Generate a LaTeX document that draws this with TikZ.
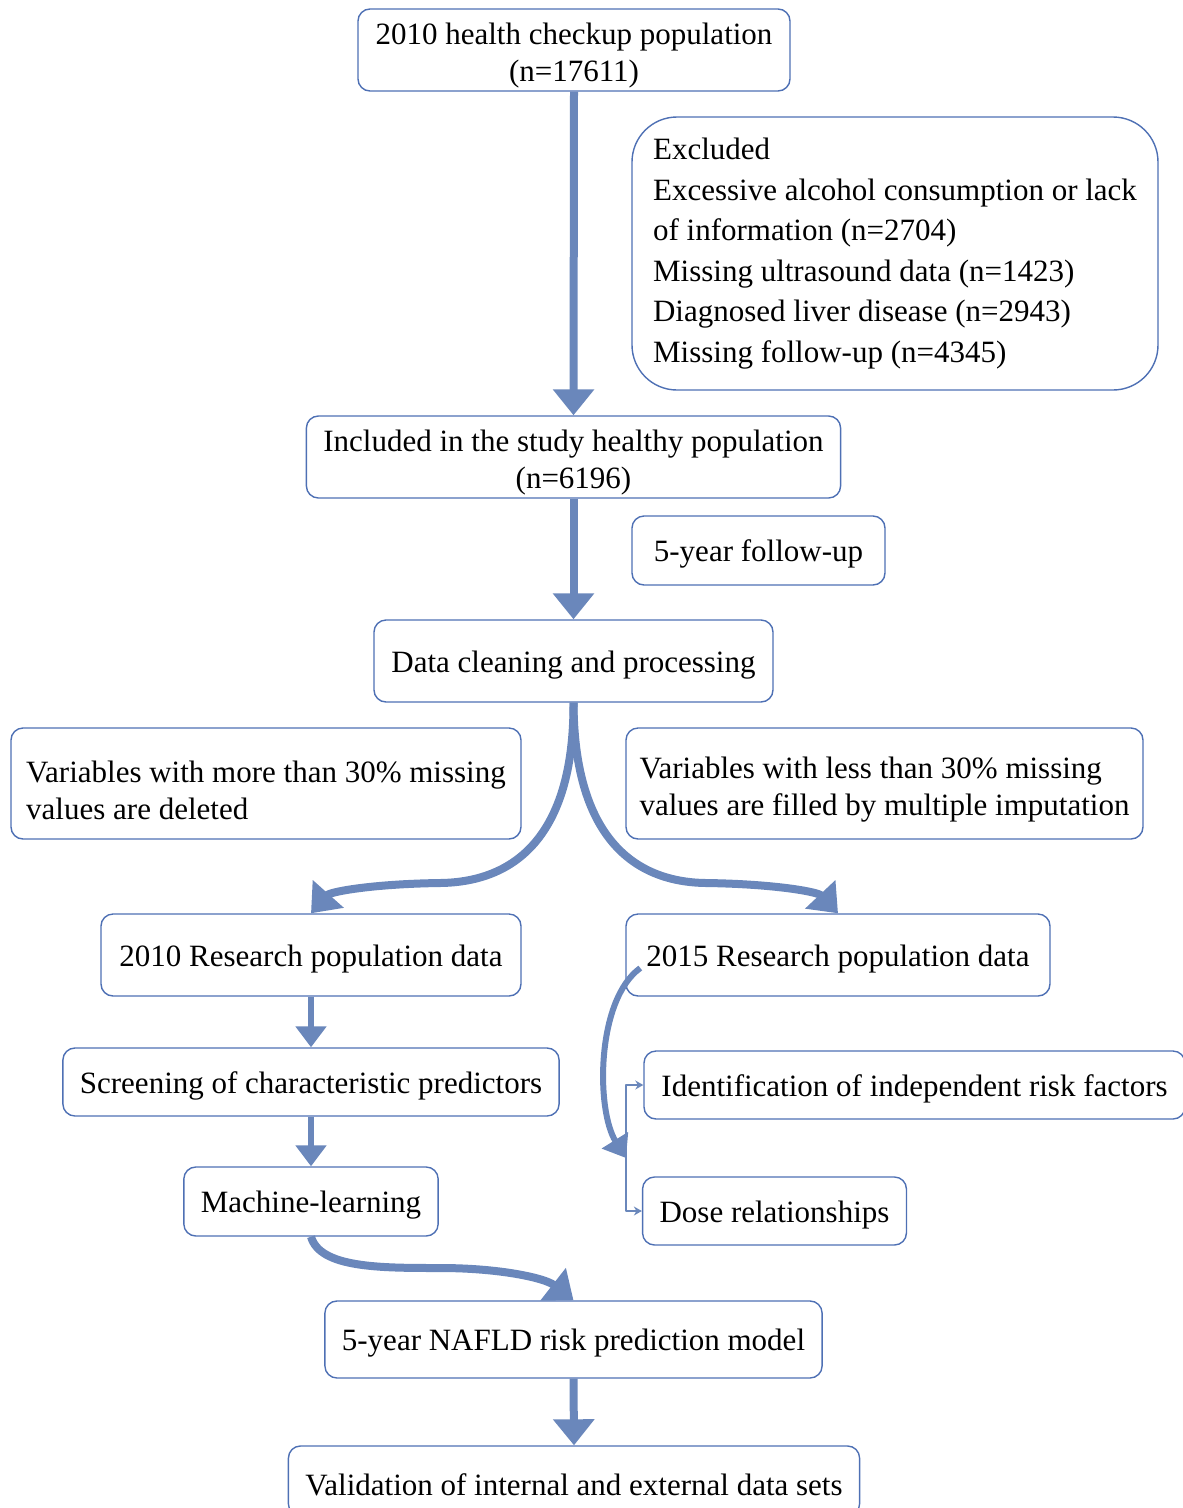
\documentclass[tikz,border=0pt]{standalone}
\usepackage{fontspec}
\setmainfont{Liberation Serif}
\usetikzlibrary{arrows.meta}
\definecolor{boxblue}{RGB}{78,112,180}
\definecolor{flowblue}{RGB}{106,135,187}
\newcommand{\topstrut}[1]{\rule{0pt}{#1}}

\begin{document}
\begin{tikzpicture}[x=1pt, y=-1pt, line join=round,
	font=\fontsize{31}{37}\selectfont,
	box/.style={draw=boxblue, line width=1.4pt, rounded corners=12pt, inner xsep=17pt, inner ysep=0pt, align=center,
		execute at begin node={\topstrut{29pt}}},
	flow/.style={draw=flowblue, line width=8pt, -{Triangle[width=40pt,length=26pt]}},
	flowsmall/.style={draw=flowblue, line width=6pt, -{Triangle[width=30pt,length=21pt]}},
	branch/.style={draw=flowblue, line width=2pt, -{Stealth[width=9pt,length=8pt]}}]
	\useasboundingbox (0,0) rectangle (1183,1508);
	
	% Main column
	\node[box, minimum width=432pt, minimum height=82pt] (pop) at (574,50) {\topstrut{33pt}2010 health checkup population\\(n=17611)};
	\node[box, rounded corners=45pt, align=left, minimum width=526pt, minimum height=273pt, font=\fontsize{31}{40.6}\selectfont,
		execute at begin node={}] (excl) at (895,253.5)
		{Excluded\\Excessive alcohol consumption or lack\\of information (n=2704)\\Missing ultrasound data (n=1423)\\Diagnosed liver disease (n=2943)\\Missing follow-up (n=4345)};
	\node[box, minimum width=533pt, minimum height=82pt] (incl) at (573.5,457) {\topstrut{33pt}Included in the study healthy population\\(n=6196)};
	\node[box, minimum width=253pt, minimum height=69pt] (fup) at (758.5,550.5) {5-year follow-up};
	\node[box, minimum width=399pt, minimum height=82pt] (clean) at (573.5,661) {Data cleaning and processing};
	
	% Missing values
	\node[box, align=left, inner xsep=14pt, minimum width=510pt, minimum height=111pt] (more) at (266,783.5)
		{\topstrut{35pt}Variables with more than 30\% missing\\values are deleted};
	\node[box, align=left, inner xsep=13pt, minimum width=517pt, minimum height=111pt] (less) at (884.5,783.5)
		{\topstrut{34pt}Variables with less than 30\% missing\\values are filled by multiple imputation};
	
	% Two data sets
	\node[box, minimum width=420pt, minimum height=82pt] (rd10) at (311,955) {2010 Research population data};
	\node[box, minimum width=424pt, minimum height=82pt] (rd15) at (838,955) {2015 Research population data};
	\node[box, minimum width=494pt, minimum height=68pt] (screen) at (311,1082) {Screening of characteristic predictors};
	\node[box, minimum width=541pt, minimum height=68pt] (ident) at (914.5,1085) {Identification of independent risk factors};
	\node[box, minimum width=252pt, minimum height=69pt] (ml) at (311,1201.5) {Machine-learning};
	\node[box, minimum width=261pt, minimum height=68pt] (dose) at (774.5,1211) {Dose relationships};
	\node[box, minimum width=495pt, minimum height=77pt] (nafld) at (573.5,1339.5) {5-year NAFLD risk prediction model};
	\node[box, minimum width=566pt, minimum height=70pt] (valid) at (574,1481) {Validation of internal and external data sets};
	
	% Arrows
	\draw[flow] (pop.south) -- (incl.north);
	\draw[flow] (incl.south) -- (clean.north);
	\draw[flow] (clean.south) .. controls (574,830) and (520,882) .. (440,883)
		.. controls (370,884) and (330,892) .. (rd10.north);
	\draw[flow] (clean.south) .. controls (574,830) and (628,882) .. (706,883)
		.. controls (776,884) and (818,892) .. (rd15.north);
	\draw[flowsmall] (rd10.south) -- (screen.north);
	\draw[flowsmall] (screen.south) -- (ml.north);
	\draw[flow] (ml.south) .. controls (320,1268) and (380,1268) .. (440,1268)
		.. controls (500,1268) and (545,1278) .. (nafld.north);
	\draw[flow] (nafld.south) -- (valid.north);
	
	% Branch to risk factors and dose
	\coordinate (join) at (626,1158);
	\draw[flowsmall] ([shift={(15pt,-13pt)}]rd15.west) .. controls (596,1000) and (596,1110) .. (join);
	\draw[branch] (join) |- (ident.west);
	\draw[branch] (join) |- (dose.west);
\end{tikzpicture}
\end{document}
